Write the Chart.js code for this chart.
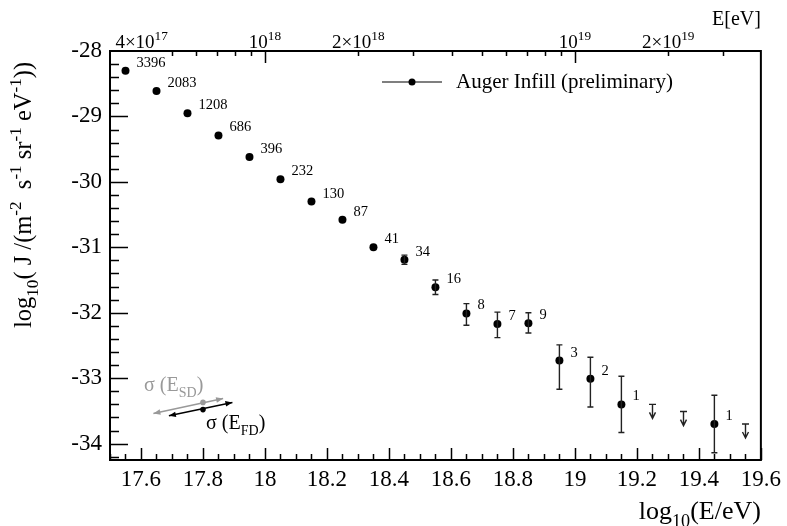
<!DOCTYPE html>
<html>
<head>
<meta charset="utf-8">
<script src="https://cdn.jsdelivr.net/npm/chart.js@4/dist/chart.umd.min.js"></script>
<style>
  html, body { margin: 0; padding: 0; background: #fff; }
  canvas { display: block; }
</style>
</head>
<body>
<canvas id="spec" width="787" height="526"></canvas>
<script>
// bin centres log10(E/eV) and flux log10(J)
const xVals = [17.55, 17.65, 17.75, 17.85, 17.95, 18.05, 18.15, 18.25, 18.35,
               18.45, 18.55, 18.65, 18.75, 18.85, 18.95, 19.05, 19.15, 19.45];
const yVals = [-28.30, -28.61, -28.95, -29.29, -29.62, -29.96, -30.30, -30.58, -31.00,
               -31.19, -31.61, -32.01, -32.17, -32.16, -32.73, -33.01, -33.40, -33.70];
const yErrUp  = [0, 0, 0, 0, 0, 0, 0, 0.03, 0.05, 0.07, 0.11, 0.15, 0.18, 0.16, 0.24, 0.33, 0.43, 0.44];
const yErrLow = [0, 0, 0, 0, 0, 0, 0, 0.03, 0.05, 0.07, 0.11, 0.18, 0.21, 0.15, 0.44, 0.43, 0.43, 0.44];
const counts  = ['3396', '2083', '1208', '686', '396', '232', '130', '87', '41',
                 '34', '16', '8', '7', '9', '3', '2', '1', '1'];

// upper limits
const ulX = [19.25, 19.35, 19.55];
const ulY = [-33.40, -33.51, -33.70];

// axis ticks
const xTicks = [17.6, 17.8, 18, 18.2, 18.4, 18.6, 18.8, 19, 19.2, 19.4, 19.6];
const yTicks = [-34, -33, -32, -31, -30, -29, -28];

// top energy axis (E in eV)
const topMajorE = [1e18, 1e19];
const topMinorE = [5e17, 6e17, 7e17, 8e17, 9e17, 2e18, 3e18, 4e18, 5e18, 6e18, 7e18, 8e18, 9e18, 2e19, 3e19];
const topLabelE = [4e17, 1e18, 2e18, 1e19, 2e19];
const topLabelMant = ['4\u00d7', '', '2\u00d7', '', '2\u00d7'];
const topLabelExp = ['17', '18', '18', '19', '19'];

// energy resolution arrows: [x0, x1], [y0, y1], centre point
const sdX = [17.64, 17.865], sdY = [-33.54, -33.31], sdPt = [17.80, -33.37];
const fdX = [17.69, 17.895], fdY = [-33.575, -33.37], fdPt = [17.80, -33.48];

const SERIF = "'Liberation Serif', 'DejaVu Serif', serif";

// draw text with sub/superscripts; parts = [[text, mode]] mode 0 normal, 1 sup, -1 sub
function richWidth(ctx, parts, size) {
  let w = 0;
  parts.forEach(([t, m]) => {
    ctx.font = (m ? size * 0.7 : size) + 'px ' + SERIF;
    w += ctx.measureText(t).width;
  });
  return w;
}
function drawRich(ctx, parts, x, y, size, align) {
  const w = richWidth(ctx, parts, size);
  let cx = align === 'center' ? x - w / 2 : align === 'right' ? x - w : x;
  ctx.textAlign = 'left';
  ctx.textBaseline = 'alphabetic';
  parts.forEach(([t, m]) => {
    const s = m ? size * 0.7 : size;
    ctx.font = s + 'px ' + SERIF;
    const dy = m === 1 ? -size * 0.42 : m === -1 ? size * 0.3 : 0;
    ctx.fillText(t, cx, y + dy);
    cx += ctx.measureText(t).width;
  });
}

function arrowHead(ctx, x0, y0, x1, y1, len, half) {
  const a = Math.atan2(y1 - y0, x1 - x0);
  ctx.beginPath();
  ctx.moveTo(x1, y1);
  ctx.lineTo(x1 - len * Math.cos(a) + half * Math.sin(a), y1 - len * Math.sin(a) - half * Math.cos(a));
  ctx.lineTo(x1 - len * Math.cos(a) - half * Math.sin(a), y1 - len * Math.sin(a) + half * Math.cos(a));
  ctx.closePath();
  ctx.fill();
}

const decorations = {
  id: 'decorations',
  afterDatasetsDraw(chart) {
    const { ctx, chartArea: a, scales: { x, y } } = chart;
    ctx.save();

    // frame
    ctx.strokeStyle = '#000';
    ctx.lineWidth = 2;
    ctx.strokeRect(a.left, a.top, a.right - a.left, a.bottom - a.top);

    // y ticks (inward, left)
    ctx.lineWidth = 1.5;
    ctx.beginPath();
    for (let v = -34.2; v <= -28.0001; v += 0.2) {
      const py = Math.round(y.getPixelForValue(v)) + 0.5;
      const major = Math.abs(v - Math.round(v)) < 1e-6;
      ctx.moveTo(a.left, py);
      ctx.lineTo(a.left + (major ? 18 : 9), py);
    }
    // bottom x ticks
    for (let v = 17.5; v <= 19.6001; v += 0.05) {
      const px = Math.round(x.getPixelForValue(v)) + 0.5;
      const major = Math.abs(v * 5 - Math.round(v * 5)) < 1e-6;
      ctx.moveTo(px, a.bottom);
      ctx.lineTo(px, a.bottom - (major ? 12 : 6));
    }
    // top energy axis ticks
    topMajorE.forEach(e => {
      const px = Math.round(x.getPixelForValue(Math.log10(e))) + 0.5;
      ctx.moveTo(px, a.top); ctx.lineTo(px, a.top + 12);
    });
    topMinorE.forEach(e => {
      const px = Math.round(x.getPixelForValue(Math.log10(e))) + 0.5;
      ctx.moveTo(px, a.top); ctx.lineTo(px, a.top + 5);
    });
    ctx.stroke();

    // top labels
    ctx.fillStyle = '#000';
    topLabelE.forEach((e, i) => {
      const px = x.getPixelForValue(Math.log10(e));
      drawRich(ctx, [[topLabelMant[i] + '10', 0], [topLabelExp[i], 1]], px, a.top - 3, 19, 'center');
    });
    drawRich(ctx, [['E[eV]', 0]], a.right, 25, 20, 'right');

    // error bars
    ctx.strokeStyle = '#222';
    ctx.lineWidth = 1.4;
    xVals.forEach((xv, i) => {
      const px = x.getPixelForValue(xv);
      const pc = y.getPixelForValue(yVals[i]);
      const pu = y.getPixelForValue(yVals[i] + yErrUp[i]);
      const pl = y.getPixelForValue(yVals[i] - yErrLow[i]);
      ctx.beginPath();
      if (pc - pu > 4) {
        ctx.moveTo(px, pc); ctx.lineTo(px, pu);
        ctx.moveTo(px - 3, pu); ctx.lineTo(px + 3, pu);
      }
      if (pl - pc > 4) {
        ctx.moveTo(px, pc); ctx.lineTo(px, pl);
        ctx.moveTo(px - 3, pl); ctx.lineTo(px + 3, pl);
      }
      ctx.stroke();
    });

    // upper limit arrows
    ctx.fillStyle = '#222';
    ulX.forEach((xv, i) => {
      const px = Math.round(x.getPixelForValue(xv)) + 0.5;
      const py = y.getPixelForValue(ulY[i]);
      ctx.beginPath();
      ctx.moveTo(px - 3.5, py); ctx.lineTo(px + 3.5, py);
      ctx.moveTo(px, py); ctx.lineTo(px, py + 13);
      ctx.moveTo(px - 3, py + 8); ctx.lineTo(px, py + 14); ctx.lineTo(px + 3, py + 8);
      ctx.stroke();
    });

    // event counts
    ctx.fillStyle = '#000';
    ctx.font = '14.5px ' + SERIF;
    ctx.textAlign = 'left';
    ctx.textBaseline = 'alphabetic';
    xVals.forEach((xv, i) => {
      const px = x.getPixelForValue(xv);
      const py = y.getPixelForValue(yVals[i]);
      ctx.fillText(counts[i], px + 11, py - 4);
    });

    // legend
    ctx.strokeStyle = '#000';
    ctx.lineWidth = 1.2;
    ctx.beginPath();
    ctx.moveTo(382, 82); ctx.lineTo(442, 82);
    ctx.stroke();
    ctx.beginPath();
    ctx.arc(412, 82, 3.5, 0, Math.PI * 2);
    ctx.fill();
    ctx.font = '21px ' + SERIF;
    ctx.fillText('Auger Infill (preliminary)', 456, 88);

    // energy resolution arrows
    [[sdX, sdY, sdPt, '#999999'], [fdX, fdY, fdPt, '#000000']].forEach(([ax, ay, pt, col]) => {
      const x0 = x.getPixelForValue(ax[0]), y0 = y.getPixelForValue(ay[0]);
      const x1 = x.getPixelForValue(ax[1]), y1 = y.getPixelForValue(ay[1]);
      ctx.strokeStyle = col; ctx.fillStyle = col;
      ctx.lineWidth = 1.5;
      ctx.beginPath();
      ctx.moveTo(x0, y0); ctx.lineTo(x1, y1);
      ctx.stroke();
      arrowHead(ctx, x1, y1, x0, y0, 7, 2.8);
      arrowHead(ctx, x0, y0, x1, y1, 7, 2.8);
      ctx.beginPath();
      ctx.arc(x.getPixelForValue(pt[0]), y.getPixelForValue(pt[1]), 2.8, 0, Math.PI * 2);
      ctx.fill();
    });
    ctx.fillStyle = '#999999';
    drawRich(ctx, [['\u03c3 (E', 0], ['SD', -1], [')', 0]], x.getPixelForValue(17.61), y.getPixelForValue(-33.19), 20, 'left');
    ctx.fillStyle = '#000';
    drawRich(ctx, [['\u03c3 (E', 0], ['FD', -1], [')', 0]], x.getPixelForValue(17.81), y.getPixelForValue(-33.77), 20, 'left');

    // axis titles
    drawRich(ctx, [['log', 0], ['10', -1], ['(E/eV)', 0]], a.right, 519, 26, 'right');
    ctx.save();
    ctx.translate(31, 195);
    ctx.rotate(-Math.PI / 2);
    drawRich(ctx, [['log', 0], ['10', -1], ['( J /(m', 0], ['-2', 1], ['  s', 0], ['-1', 1],
                   [' sr', 0], ['-1', 1], [' eV', 0], ['-1', 1], ['))', 0]], 0, 0, 24.5, 'center');
    ctx.restore();

    ctx.restore();
  }
};

new Chart(document.getElementById('spec'), {
  type: 'scatter',
  data: {
    datasets: [{
      label: 'Auger Infill (preliminary)',
      data: xVals.map((v, i) => ({ x: v, y: yVals[i] })),
      pointRadius: 4,
      pointBackgroundColor: '#000',
      pointBorderWidth: 0,
      showLine: false
    }]
  },
  options: {
    responsive: false,
    animation: false,
    devicePixelRatio: 1,
    layout: { padding: { top: 51, right: 24, left: 0, bottom: 0 } },
    plugins: { legend: { display: false }, tooltip: { enabled: false } },
    scales: {
      x: {
        type: 'linear', min: 17.5, max: 19.6,
        afterBuildTicks: s => { s.ticks = xTicks.map(v => ({ value: v })); },
        afterFit: s => { s.height = 66; },
        grid: { display: false, drawTicks: false },
        border: { display: false },
        ticks: {
          padding: 6, maxRotation: 0, autoSkip: false, color: '#000',
          font: { family: SERIF, size: 23 },
          callback: v => String(Math.round(v * 10) / 10)
        }
      },
      y: {
        type: 'linear', min: -34.25, max: -28,
        afterBuildTicks: s => { s.ticks = yTicks.map(v => ({ value: v })); },
        afterFit: s => { s.width = 110; },
        grid: { display: false, drawTicks: false },
        border: { display: false },
        ticks: {
          padding: 8, color: '#000',
          font: { family: SERIF, size: 23 },
          callback: v => String(v)
        }
      }
    }
  },
  plugins: [decorations]
});
</script>
</body>
</html>
